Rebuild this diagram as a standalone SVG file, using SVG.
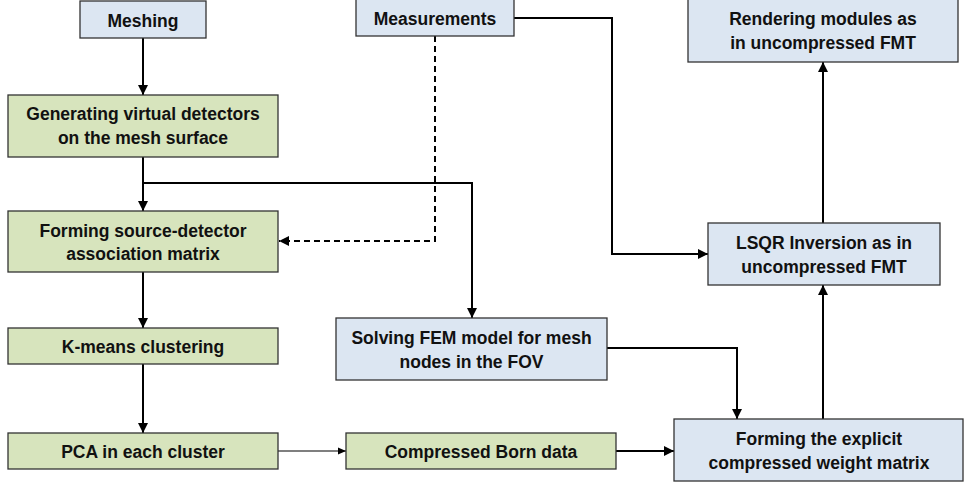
<svg xmlns="http://www.w3.org/2000/svg" width="965" height="485" viewBox="0 0 965 485">
  <defs>
    <style>
      .box { stroke: #333333; stroke-width: 1.3; }
      .blue { fill: #dce6f2; }
      .green { fill: #d7e4bd; }
      .lbl { font-family: "Liberation Sans", Arial, sans-serif; font-weight: bold; font-size: 17.5px; fill: #111111; text-anchor: middle; }
      .conn { fill: none; stroke: #000000; stroke-width: 2; }
      .thin { fill: none; stroke: #000000; stroke-width: 1.2; }
      .dash { fill: none; stroke: #000000; stroke-width: 2; stroke-dasharray: 6 4; }
    </style>
    <marker id="ah" markerWidth="10" markerHeight="10" refX="10" refY="5" orient="auto" markerUnits="userSpaceOnUse">
      <path d="M0,0 L10,5 L0,10 z" fill="#000000"/>
    </marker>
    <marker id="ahs" markerWidth="8" markerHeight="8" refX="8" refY="4" orient="auto" markerUnits="userSpaceOnUse">
      <path d="M0,0.5 L8,4 L0,7.5 z" fill="#000000"/>
    </marker>
  </defs>
  <rect width="965" height="485" fill="#ffffff"/>

  <g id="connectors">
    <path class="conn" d="M143,38 V95" marker-end="url(#ah)"/>
    <path class="conn" d="M143,157 V211" marker-end="url(#ah)"/>
    <path class="conn" d="M143,183 H472 V318" marker-end="url(#ah)"/>
    <path class="conn" d="M143,272 V328" marker-end="url(#ah)"/>
    <path class="conn" d="M143,364 V433" marker-end="url(#ah)"/>
    <path class="dash" d="M435,36 V241 H279" marker-end="url(#ah)"/>
    <path class="conn" d="M514,18 H612 V254 H708" marker-end="url(#ah)"/>
    <path class="thin" d="M278,451 H346" marker-end="url(#ahs)"/>
    <path class="conn" d="M616,451 H674" marker-end="url(#ah)"/>
    <path class="conn" d="M607,348 H737 V419" marker-end="url(#ah)"/>
    <path class="conn" d="M823,419 V285" marker-end="url(#ah)"/>
    <path class="conn" d="M823,223 V62" marker-end="url(#ah)"/>
  </g>

  <g id="meshing">
    <rect class="box blue" x="80" y="1" width="126" height="37"/>
    <text class="lbl" x="143" y="26.5">Meshing</text>
  </g>
  <g id="generating">
    <rect class="box green" x="8" y="95" width="270" height="62"/>
    <text class="lbl" x="143" y="119.5">Generating virtual detectors</text>
    <text class="lbl" x="143" y="143.5">on the mesh surface</text>
  </g>
  <g id="forming-sd">
    <rect class="box green" x="8" y="211" width="270" height="61"/>
    <text class="lbl" x="143" y="236.5">Forming source-detector</text>
    <text class="lbl" x="143" y="260">association matrix</text>
  </g>
  <g id="kmeans">
    <rect class="box green" x="8" y="328" width="270" height="36"/>
    <text class="lbl" x="143" y="352.5">K-means clustering</text>
  </g>
  <g id="pca">
    <rect class="box green" x="8" y="433" width="270" height="36"/>
    <text class="lbl" x="143" y="457.5">PCA in each cluster</text>
  </g>
  <g id="measurements">
    <rect class="box blue" x="356" y="-1" width="158" height="37"/>
    <text class="lbl" x="435" y="25">Measurements</text>
  </g>
  <g id="solving">
    <rect class="box blue" x="336" y="318" width="271" height="62"/>
    <text class="lbl" x="471.5" y="344">Solving FEM model for mesh</text>
    <text class="lbl" x="471.5" y="368">nodes in the FOV</text>
  </g>
  <g id="compressed">
    <rect class="box green" x="346" y="433" width="270" height="36"/>
    <text class="lbl" x="481" y="457.5">Compressed Born data</text>
  </g>
  <g id="rendering">
    <rect class="box blue" x="688" y="-1" width="270" height="63"/>
    <text class="lbl" x="823" y="25">Rendering modules as</text>
    <text class="lbl" x="823" y="49">in uncompressed FMT</text>
  </g>
  <g id="lsqr">
    <rect class="box blue" x="708" y="223" width="232" height="62"/>
    <text class="lbl" x="824" y="249">LSQR Inversion as in</text>
    <text class="lbl" x="824" y="272.5">uncompressed FMT</text>
  </g>
  <g id="forming-explicit">
    <rect class="box blue" x="674" y="419" width="289" height="62"/>
    <text class="lbl" x="819" y="445">Forming the explicit</text>
    <text class="lbl" x="819" y="469">compressed weight matrix</text>
  </g>
</svg>
